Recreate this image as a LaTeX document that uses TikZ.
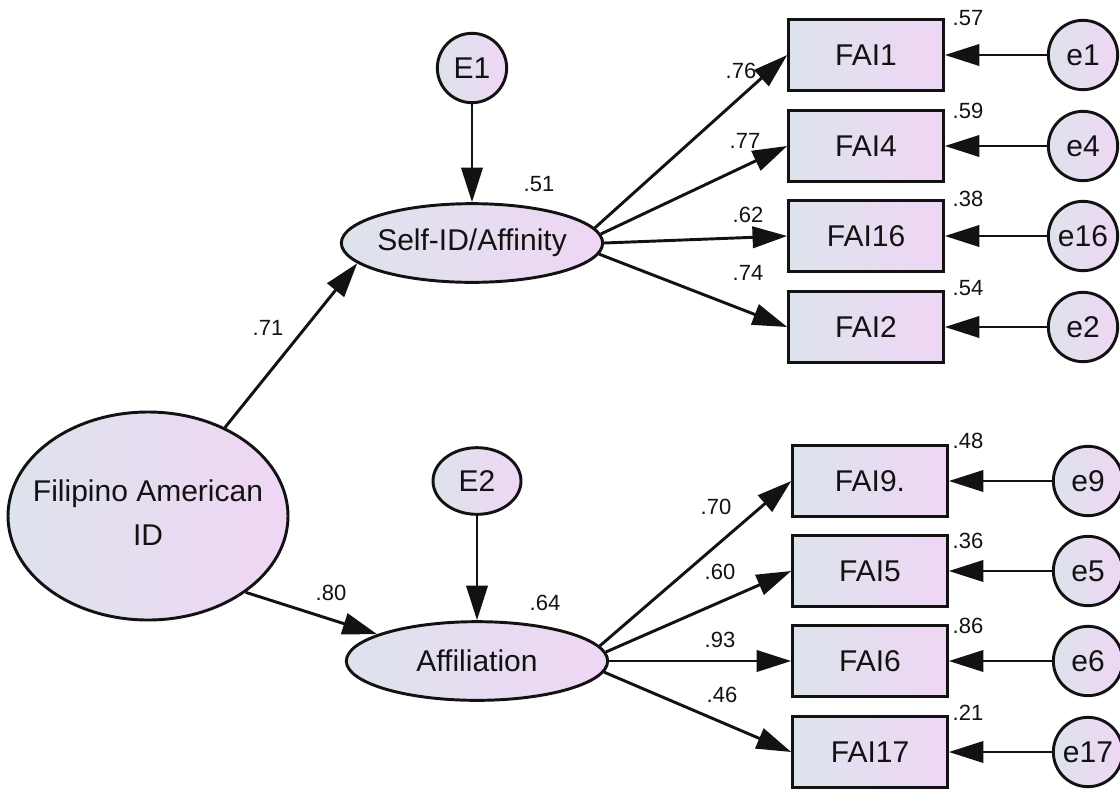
\documentclass[tikz,border=0pt]{standalone}
\usepackage{fontspec}
\setmainfont{Liberation Sans}[Ligatures=NoCommon]
\usetikzlibrary{shapes.geometric,arrows.meta}
\definecolor{shadeL}{RGB}{221,227,236}
\definecolor{shadeR}{RGB}{239,214,244}
\definecolor{ink}{RGB}{18,18,18}
\begin{document}
\begin{tikzpicture}[x=0.75pt,y=-0.75pt,
  shaded/.style={draw=ink, line width=2.2pt, left color=shadeL, right color=shadeR,
    text=ink, font=\fontsize{22.5pt}{27pt}\selectfont, inner sep=0pt},
  obs/.style={shaded, rectangle, minimum width=116pt, minimum height=53pt},
  err/.style={shaded, circle, minimum size=52pt},
  latent/.style={shaded, ellipse, minimum width=196pt, minimum height=59pt},
  coef/.style={text=ink, font=\fontsize{16.5pt}{19pt}\selectfont, inner sep=0pt},
  link/.style={draw=ink, line width=2.2pt, -{Triangle[length=26pt,width=16pt]}}
]
\useasboundingbox (0,0) rectangle (1120,793);

% latent variables
\node[shaded, ellipse, minimum width=210pt, minimum height=156pt] (fil) at (148,516)
  {\makebox[0pt]{\begin{tabular}{@{}c@{}}Filipino American\\[6pt]ID\end{tabular}}};
\node[latent] (self) at (472,243) {\makebox[0pt]{Self-ID/Affinity}};
\node[latent] (aff) at (477,661) {\makebox[0pt]{Affiliation}};

% disturbances
\node[err] (E1) at (472,68) {E1};
\node[shaded, ellipse, minimum width=66pt, minimum height=50pt] (E2) at (477,481) {\makebox[0pt]{E2}};

% indicators and their errors
\foreach \nm/\lab/\yy in {fai1/FAI1/55, fai4/FAI4/146, fai16/FAI16/236, fai2/FAI2/327}{
  \node[obs] (\nm) at (866,\yy) {\lab};
}
\foreach \nm/\lab/\yy in {fai9/FAI9./481, fai5/FAI5/571, fai6/FAI6/661, fai17/FAI17/752}{
  \node[obs] (\nm) at (870,\yy) {\lab};
}
\foreach \nm/\lab/\yy in {e1/e1/55, e4/e4/146, e16/e16/236, e2/e2/327}{
  \node[err] (\nm) at (1083,\yy) {\lab};
}
\foreach \nm/\lab/\yy in {e9/e9/481, e5/e5/571, e6/e6/661, e17/e17/752}{
  \node[err] (\nm) at (1088,\yy) {\lab};
}

% structural paths
\draw[link] (fil.49) -- (self.190);
\draw[link] (fil.-38) -- (aff.165);
\draw[link] (E1) -- (self);
\draw[link] (E2) -- (aff);

% loadings
\draw[link] (self.7) -- (fai1.west);
\draw[link] (self.4) -- (fai4.west);
\draw[link] (self.0) -- (fai16.west);
\draw[link] (self.-5) -- (fai2.west);
\draw[link] (aff.7) -- (fai9.west);
\draw[link] (aff.4) -- (fai5.west);
\draw[link] (aff.0) -- (fai6.west);
\draw[link] (aff.-5) -- (fai17.west);

% error paths
\foreach \a/\b in {e1/fai1, e4/fai4, e16/fai16, e2/fai2, e9/fai9, e5/fai5, e6/fai6, e17/fai17}{
  \draw[link] (\a) -- (\b);
}

% coefficients
\node[coef] (c71) at (268,328) {.71};
\node[coef] (c80) at (331,593) {.80};
\node[coef] (c51) at (539,184) {.51};
\node[coef] (c64) at (545,603) {.64};
\node[coef] (c76) at (741,71) {.76};
\node[coef] (c77) at (745,141) {.77};
\node[coef] (c62) at (748,215) {.62};
\node[coef] (c74) at (748,273) {.74};
\node[coef] (c70) at (716,507) {.70};
\node[coef] (c60) at (720,572) {.60};
\node[coef] (c93) at (720,640) {.93};
\node[coef] (c46) at (722,695) {.46};
\node[coef] (r57) at (968,18) {.57};
\node[coef] (r59) at (968,111) {.59};
\node[coef] (r38) at (968,199) {.38};
\node[coef] (r54) at (968,288) {.54};
\node[coef] (r48) at (968,441) {.48};
\node[coef] (r36) at (968,541) {.36};
\node[coef] (r86) at (968,626) {.86};
\node[coef] (r21) at (968,713) {.21};
\end{tikzpicture}
\end{document}
